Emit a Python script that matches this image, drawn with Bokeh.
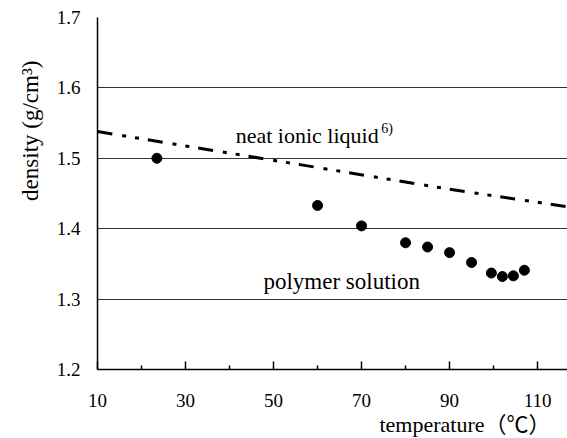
from bokeh.plotting import figure
from bokeh.models import FixedTicker, Label, Range1d, PrintfTickFormatter, Title
from bokeh.embed import file_html
from bokeh.resources import INLINE

# polymer solution (points)
poly_temp = [23.5, 60, 70, 80, 85, 90, 95, 99.5, 102, 104.5, 107]
poly_dens = [1.500, 1.433, 1.404, 1.380, 1.374, 1.366, 1.352, 1.337, 1.332, 1.333, 1.341]
# neat ionic liquid (dash-dot-dot line)
neat_temp = [10, 56, 90, 117]
neat_dens = [1.538, 1.491, 1.456, 1.431]

x_ticks = [10, 30, 50, 70, 90, 110]
x_minor = [20, 40, 60, 80, 100]
y_ticks = [1.2, 1.3, 1.4, 1.5, 1.6, 1.7]

SERIF = "Liberation Serif"

p = figure(width=567, height=438, x_range=Range1d(10, 116.8), y_range=Range1d(1.2, 1.7),
           output_backend="svg", toolbar_location=None,
           min_border_left=97, min_border_right=0, min_border_top=17, min_border_bottom=69)
p.outline_line_color = None
p.background_fill_color = "white"
p.border_fill_color = "white"

p.xgrid.visible = False
p.ygrid.grid_line_color = "#333333"
p.ygrid.grid_line_width = 1

p.xaxis.ticker = FixedTicker(ticks=x_ticks, minor_ticks=x_minor)
p.yaxis.ticker = FixedTicker(ticks=y_ticks)
p.yaxis.formatter = PrintfTickFormatter(format="%.1f")

for ax in (p.xaxis, p.yaxis):
    ax.axis_line_color = "black"
    ax.axis_line_width = 1.5
    ax.major_label_text_font = SERIF
    ax.major_label_text_font_size = "19px"
    ax.major_label_text_color = "black"

p.xaxis.major_tick_in = 8
p.xaxis.major_tick_out = 0
p.xaxis.minor_tick_in = 4
p.xaxis.minor_tick_out = 0
p.xaxis.major_tick_line_width = 1.5
p.xaxis.minor_tick_line_width = 1.5
p.xaxis.major_label_standoff = 24

p.yaxis.major_tick_line_color = None
p.yaxis.minor_tick_line_color = None
p.yaxis.major_tick_out = 0
p.yaxis.major_label_standoff = 17

p.line(neat_temp, neat_dens, line_color="black", line_width=3, line_dash="15 10 4 9 4 9")
p.scatter(poly_temp, poly_dens, size=10, marker="circle", fill_color="black", line_color="black")

def lab(x, y, text, size="22px", font=SERIF):
    p.add_layout(Label(x=x, y=y, text=text, text_font=font, text_font_size=size,
                       text_baseline="alphabetic", text_align="left", text_color="black"))

lab(41.4, 1.5324, "neat ionic liquid")
lab(74.5, 1.5423, "6)", size="14px")
lab(47.7, 1.325, "polymer solution", size="23px")

# y axis title (placed in the upper part of the left border, as in the original)
yt = Title(text="density (g/cm³)", align="right", offset=43, standoff=22,
           text_font=SERIF, text_font_size="23px", text_font_style="normal", text_color="black")
p.add_layout(yt, "left")

# x axis title, below the axis, right-aligned
xt = Title(text="temperature（℃）", align="right", offset=17, standoff=0,
           text_font="Liberation Serif, Noto Sans CJK JP", text_font_size="22px",
           text_font_style="normal", text_color="black")
p.add_layout(xt, "below")

open("out.html", "w").write(file_html(p, INLINE))
